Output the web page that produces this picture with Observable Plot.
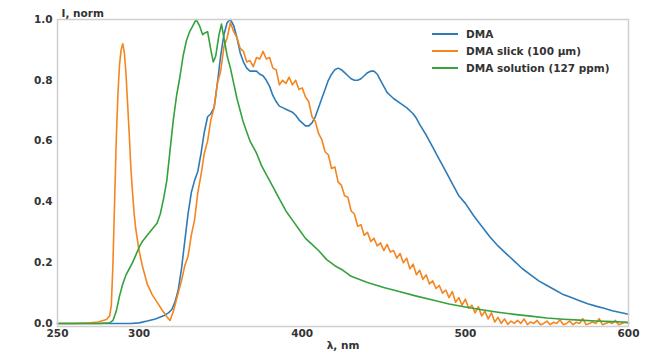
<!DOCTYPE html>
<html>
<head>
<meta charset="utf-8">
<script src="https://cdn.jsdelivr.net/npm/d3@7"></script>
<script src="https://cdn.jsdelivr.net/npm/@observablehq/plot@0.6"></script>
<style>
  html, body { margin: 0; padding: 0; background: #fff; }
  #wrap { position: relative; width: 657px; height: 354px; font-family: "DejaVu Sans", sans-serif; }
  #legend { position: absolute; left: 432px; top: 25px; font-size: 10.5px; font-weight: bold; color: #333; }
  #legend .row { display: flex; align-items: center; height: 17px; }
  #legend .sw { width: 26px; height: 2px; margin-right: 8px; }
</style>
</head>
<body>
<div id="wrap"><div id="legend"></div></div>
<script>
const seriesNames = ["DMA", "DMA slick (100 µm)", "DMA solution (127 ppm)"];
const seriesColors = ["#2f7bb6", "#f5851f", "#35a23c"];
const xTicks = [250, 300, 400, 500, 600];
const yTicks = [0, 0.2, 0.4, 0.6, 0.8, 1.0];
const xLabel = "λ, nm";
const yLabel = "I, norm";

// DMA (blue)
const dmaX = [250,280,295,300,305,310,315,318,320,322,324,326,328,330,332,334,336,338,340,342,344,346,348,350,352,354,356,358,360,362,364,366,368,370,372,374,376,378,380,382,384,386,388,390,392,394,396,398,400,402,404,406,408,410,412,414,416,418,420,422,424,426,428,430,432,434,436,438,440,442,444,446,448,450,452,454,456,460,464,468,470,472,476,480,484,488,492,496,500,505,510,515,520,525,530,535,540,545,550,555,560,565,570,575,580,585,590,595,600];
const dmaY = [0,0,0,0.002,0.008,0.015,0.025,0.035,0.045,0.07,0.11,0.18,0.27,0.36,0.43,0.47,0.50,0.56,0.63,0.68,0.69,0.71,0.79,0.88,0.95,0.99,1.0,0.98,0.94,0.89,0.86,0.84,0.83,0.83,0.83,0.82,0.815,0.80,0.78,0.75,0.73,0.715,0.71,0.705,0.70,0.695,0.685,0.67,0.66,0.65,0.65,0.66,0.68,0.71,0.74,0.77,0.80,0.82,0.835,0.84,0.835,0.825,0.815,0.805,0.80,0.80,0.805,0.815,0.825,0.83,0.83,0.82,0.80,0.78,0.76,0.75,0.74,0.725,0.71,0.69,0.675,0.655,0.62,0.58,0.54,0.50,0.46,0.42,0.395,0.355,0.32,0.285,0.255,0.23,0.205,0.18,0.16,0.14,0.125,0.11,0.095,0.085,0.075,0.065,0.057,0.05,0.042,0.036,0.03];

// DMA slick (orange)
const slickX = [250,260,270,275,280,282,283,284,285,286,287,288,289,290,291,292,293,294,295,296,297,298,300,302,305,308,311,314,317,319,321,323,326,328,
  330,332,334,336,338,340,342,344,346,348,350,352,354,356,358,360,362,364,366,368,370,372,374,376,378,380,382,384,386,388,390,392,394,396,398,400,402,404,406,408,410,412,414,416,418,420,422,424,426,428,430,432,434,436,438,440,442,444,446,448,450,452,454,456,458,460,462,464,466,468,470,472,474,476,478,480,482,484,486,488,490,492,494,496,498,500,502,504,506,508,510,512,514,516,518,520,522,524,526,528,530,532,534,536,538,540,542,544,546,548,550,552,554,556,558,560,562,564,566,568,570,572,574,576,578,580,582,584,586,588,590,592,594,596,598,600];
const slickY = [0,0,0.002,0.005,0.013,0.025,0.06,0.2,0.4,0.6,0.75,0.85,0.9,0.92,0.89,0.82,0.72,0.62,0.51,0.43,0.36,0.31,0.24,0.19,0.13,0.095,0.07,0.045,0.022,0.01,0.04,0.08,0.14,0.19,
  0.22,0.29,0.34,0.43,0.49,0.56,0.60,0.67,0.71,0.79,0.83,0.91,0.94,0.99,0.96,0.94,0.905,0.895,0.86,0.865,0.845,0.875,0.87,0.895,0.87,0.875,0.84,0.835,0.785,0.80,0.79,0.81,0.785,0.80,0.77,0.775,0.745,0.73,0.68,0.665,0.625,0.605,0.565,0.555,0.51,0.515,0.465,0.455,0.42,0.415,0.37,0.36,0.32,0.325,0.29,0.30,0.27,0.28,0.255,0.265,0.24,0.26,0.235,0.24,0.215,0.23,0.20,0.215,0.18,0.195,0.16,0.175,0.145,0.16,0.13,0.14,0.115,0.125,0.10,0.11,0.085,0.105,0.07,0.085,0.06,0.08,0.05,0.06,0.035,0.055,0.025,0.04,0.015,0.035,0.005,0.02,0.0,0.015,-0.003,0.008,0.0,0.01,0.0,0.015,-0.004,0.005,0.00,0.01,-0.004,0.00,0.008,-0.004,0.004,0.00,0.012,-0.004,0.00,0.008,-0.004,0.004,0.00,0.016,-0.004,0.00,0.005,0.00,0.016,-0.004,0.00,0.005,0.00,0.01,-0.004,0.00,0.004,0.00];

// DMA solution (green)
const solX = [250,275,282,284,286,288,290,292,294,296,298,300,302,305,308,311,313,315,317,319,321,323,325,327,329,331,333,335,337,339,340,342,344,345.5,347,349,350.5,352,354,356,358,360,362,364,366,368,370,372,375,378,382,386,390,394,398,402,406,410,415,420,425,430,440,450,460,470,480,490,500,510,520,530,540,550,560,570,580,590,600];
const solY = [0,0,0.002,0.01,0.04,0.09,0.13,0.16,0.18,0.20,0.225,0.25,0.27,0.29,0.31,0.33,0.36,0.41,0.47,0.57,0.67,0.75,0.81,0.88,0.93,0.96,0.98,1.0,0.98,0.95,0.955,0.96,0.90,0.86,0.88,0.95,0.985,0.94,0.88,0.84,0.79,0.74,0.70,0.66,0.63,0.60,0.58,0.56,0.52,0.49,0.45,0.41,0.37,0.34,0.31,0.28,0.26,0.24,0.21,0.19,0.175,0.155,0.135,0.118,0.104,0.09,0.077,0.064,0.054,0.045,0.037,0.03,0.024,0.018,0.014,0.011,0.008,0.006,0.004];

const series = [
  {name: seriesNames[0], xs: dmaX, ys: dmaY},
  {name: seriesNames[1], xs: slickX, ys: slickY},
  {name: seriesNames[2], xs: solX, ys: solY}
];
const data = series.flatMap(s => s.xs.map((x, i) => ({series: s.name, x, y: s.ys[i]})));

const chart = Plot.plot({
  width: 657,
  height: 354,
  marginTop: 19,
  marginLeft: 57,
  marginRight: 29,
  marginBottom: 28,
  style: {fontFamily: "DejaVu Sans", fontSize: "10.5px", fontWeight: "bold", color: "#333", background: "#fff"},
  x: {domain: [250, 600]},
  y: {domain: [-0.01, 1.0]},
  color: {domain: seriesNames, range: seriesColors},
  marks: [
    Plot.line(data, {x: "x", y: "y", z: "series", stroke: "series", strokeWidth: 1.6}),
    Plot.frame({stroke: "#cfcfcf", strokeWidth: 1.5}),
    Plot.axisX({ticks: xTicks, tickSize: 0, tickPadding: 3, tickFormat: d => String(d), label: null, fontWeight: "bold"}),
    Plot.axisY({ticks: yTicks, tickSize: 0, tickPadding: 5, tickFormat: d => d.toFixed(1), label: null, fontWeight: "bold"}),
    Plot.text([yLabel], {frameAnchor: "top-left", text: d => d, textAnchor: "start", dx: 4, dy: -10, fontWeight: "bold", fill: "#333"}),
    Plot.text([xLabel], {frameAnchor: "bottom", text: d => d, dy: 22, fontWeight: "bold", fill: "#333"})
  ]
});
document.getElementById("wrap").prepend(chart);

const legend = document.getElementById("legend");
seriesNames.forEach((n, i) => {
  const row = document.createElement("div");
  row.className = "row";
  const sw = document.createElement("span");
  sw.className = "sw";
  sw.style.background = seriesColors[i];
  const t = document.createElement("span");
  t.textContent = n;
  row.append(sw, t);
  legend.append(row);
});
</script>
</body>
</html>
